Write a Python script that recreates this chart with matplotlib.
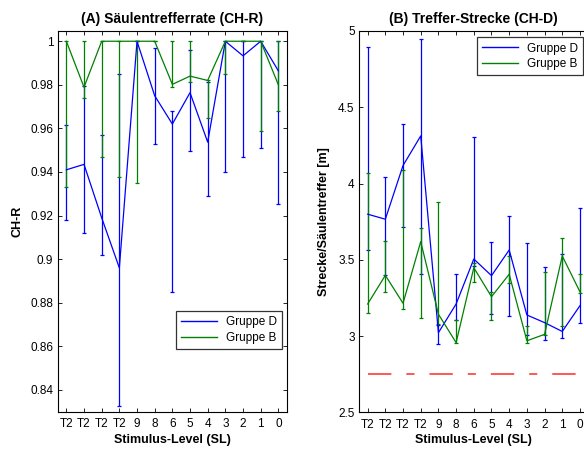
import numpy as np
import matplotlib
matplotlib.use("Agg")
import matplotlib.pyplot as plt
from matplotlib.lines import Line2D
from matplotlib.ticker import FixedLocator, FormatStrFormatter

plt.rcParams['font.family'] = ['Liberation Sans', 'DejaVu Sans']

# Stimulus levels (x axis categories)
categories = ['T2', 'T2', 'T2', 'T2', '9', '8', '6', '5', '4', '3', '2', '1', '0']

# (A) column hit rate: mean, lower and upper bounds per level
hit_d_mean = [0.941, 0.9435, 0.919, 0.896, 1.0, 0.975, 0.962, 0.9764, 0.9537, 1.0, 0.9933, 1.0, 0.9864]
hit_d_low = [0.918, 0.912, 0.902, 0.8326, 1.0, 0.9527, 0.885, 0.9498, 0.929, 0.9398, 0.9467, 0.9511, 0.9251]
hit_d_high = [0.9617, 0.9796, 0.957, 0.985, 1.0, 0.997, 0.968, 0.996, 0.9815, 1.0, 1.0, 1.0, 1.0]

hit_b_mean = [1.0, 0.9789, 1.0, 1.0, 1.0, 1.0, 0.9802, 0.984, 0.982, 1.0, 1.0, 1.0, 0.98]
hit_b_low = [0.9332, 0.9738, 0.9469, 0.9378, 0.9348, 1.0, 0.979, 0.9812, 0.9646, 0.985, 1.0, 0.959, 0.968]
hit_b_high = [1.0, 1.0, 1.0, 1.0, 1.0, 1.0, 1.0, 1.0, 0.9822, 1.0, 1.0, 1.0, 1.0]

# (B) distance per column hit [m]
dist_d_mean = [3.799, 3.766, 4.118, 4.312, 3.022, 3.21, 3.505, 3.396, 3.564, 3.138, 3.088, 3.03, 3.199]
dist_d_low = [3.564, 3.40, 3.713, 3.407, 2.95, 3.105, 3.46, 3.143, 3.13, 3.007, 2.972, 2.985, 3.083]
dist_d_high = [4.897, 4.046, 4.39, 4.945, 3.07, 3.407, 4.307, 3.615, 3.787, 3.609, 3.455, 3.536, 3.842]

dist_b_mean = [3.21, 3.398, 3.215, 3.619, 3.143, 2.957, 3.448, 3.258, 3.405, 2.969, 3.011, 3.525, 3.29]
dist_b_low = [3.149, 3.291, 3.175, 3.12, 3.076, 2.952, 3.357, 3.105, 3.346, 2.956, 3.007, 3.066, 3.285]
dist_b_high = [4.07, 3.623, 4.09, 3.707, 3.877, 3.105, 3.482, 3.29, 3.525, 3.066, 3.418, 3.645, 3.41]

# Reference distance
dist_reference = 2.75

BLUE = '#0000ff'
GREEN = '#008000'

x = np.arange(1, len(categories) + 1)

fig = plt.figure(figsize=(5.84, 4.5), dpi=100)
ax1 = fig.add_axes([57.5 / 584, 38.3 / 450, 229.7 / 584, 380.7 / 450])
ax2 = fig.add_axes([358.8 / 584, 37.7 / 450, 230.0 / 584, 381.3 / 450])


def draw_series(ax, mean, low, high, color):
    mean = np.asarray(mean)
    err = [mean - np.asarray(low), np.asarray(high) - mean]
    ax.errorbar(x, mean, yerr=err, color=color, lw=0.9, elinewidth=0.9,
                capsize=1.6, capthick=0.9)


def style_axes(ax):
    ax.set_xlim(0.5, 13.5)
    ax.xaxis.set_major_locator(FixedLocator(x))
    ax.set_xticklabels(categories)
    ax.tick_params(direction='in', top=True, right=True, length=3, width=0.6,
                   labelsize=8.5, colors='black')
    ax.tick_params(axis='x', pad=4.5)
    ax.tick_params(axis='y', pad=3)
    for s in ax.spines.values():
        s.set_linewidth(0.8)
    ax.set_xlabel('Stimulus-Level (SL)', fontsize=9, fontweight='bold')
    ax.xaxis.set_label_coords(0.5, -0.058)


# (A)
draw_series(ax1, hit_d_mean, hit_d_low, hit_d_high, BLUE)
draw_series(ax1, hit_b_mean, hit_b_low, hit_b_high, GREEN)
style_axes(ax1)
ax1.set_ylim(0.83, 1.0047)
ax1.yaxis.set_major_locator(FixedLocator(np.arange(0.84, 1.001, 0.02)))
ax1.yaxis.set_major_formatter(FormatStrFormatter('%g'))
ax1.set_ylabel('CH-R', fontsize=9, fontweight='bold')
ax1.yaxis.set_label_coords(-0.15, 0.5)
ax1.set_title('(A) Säulentrefferrate (CH-R)', fontsize=10, fontweight='bold', pad=6)

handles = [Line2D([], [], color=BLUE, lw=1), Line2D([], [], color=GREEN, lw=1)]
labels = ['Gruppe D', 'Gruppe B']

leg1 = ax1.legend(handles, labels, loc='lower right', bbox_to_anchor=(0.979, 0.164),
                  fontsize=8.5, frameon=True, fancybox=False, handlelength=3.0,
                  borderaxespad=0, borderpad=0.45, labelspacing=0.3)
leg1.get_frame().set_edgecolor('black')
leg1.get_frame().set_linewidth(0.9)

# (B)
draw_series(ax2, dist_d_mean, dist_d_low, dist_d_high, BLUE)
draw_series(ax2, dist_b_mean, dist_b_low, dist_b_high, GREEN)
ax2.plot([x[0], x[-1]], [dist_reference, dist_reference], color='#ff2a2a', lw=1.1,
         linestyle=(0, (15.3, 9.8, 5.3, 9.8)))
style_axes(ax2)
ax2.set_ylim(2.5, 5)
ax2.yaxis.set_major_locator(FixedLocator(np.arange(2.5, 5.01, 0.5)))
ax2.yaxis.set_major_formatter(FormatStrFormatter('%g'))
ax2.set_ylabel('Strecke/Säulentreffer [m]', fontsize=9, fontweight='bold')
ax2.yaxis.set_label_coords(-0.125, 0.5)
ax2.set_title('(B) Treffer-Strecke (CH-D)', fontsize=10, fontweight='bold', pad=6)

leg2 = ax2.legend(handles, labels, loc='upper right', bbox_to_anchor=(0.976, 0.9835),
                  fontsize=8.5, frameon=True, fancybox=False, handlelength=3.0,
                  borderaxespad=0, borderpad=0.45, labelspacing=0.3)
leg2.get_frame().set_edgecolor('black')
leg2.get_frame().set_linewidth(0.9)

fig.savefig('out.png', dpi=100)
